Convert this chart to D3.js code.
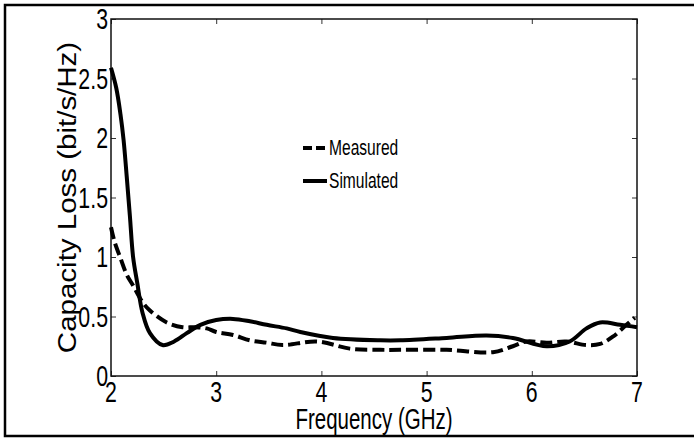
<!DOCTYPE html>
<html>
<head>
<meta charset="utf-8">
<script src="https://cdn.jsdelivr.net/npm/d3@7"></script>
<style>
  body { margin: 0; background: #fff; }
  svg { display: block; }
  .tick-label { font-family: "Liberation Sans", Arial, sans-serif; font-size: 26px; }
</style>
</head>
<body>
<svg id="chart" width="694" height="439"></svg>
<script>
// Data
const freqSimulated = [2.0, 2.05, 2.09, 2.12, 2.15, 2.18, 2.21, 2.25, 2.3, 2.37, 2.49, 2.6, 2.72, 2.85, 3.0, 3.16, 3.32, 3.48, 3.67, 3.8, 4.11, 4.56, 4.75, 5.19, 5.57, 5.82, 6.14, 6.36, 6.52, 6.65, 6.84, 7.0];
const simulated = [2.59, 2.42, 2.2, 1.98, 1.67, 1.34, 1.0, 0.78, 0.53, 0.36, 0.26, 0.29, 0.36, 0.43, 0.47, 0.48, 0.46, 0.43, 0.40, 0.37, 0.32, 0.30, 0.30, 0.32, 0.34, 0.32, 0.25, 0.29, 0.40, 0.45, 0.43, 0.41];

const freqMeasured = [2.0, 2.03, 2.09, 2.15, 2.21, 2.3, 2.37, 2.53, 2.68, 2.8, 2.91, 3.0, 3.16, 3.32, 3.48, 3.63, 3.96, 4.27, 4.56, 4.75, 5.19, 5.63, 5.82, 5.95, 6.14, 6.33, 6.52, 6.65, 6.77, 6.9, 6.98];
const measured = [1.25, 1.14, 0.99, 0.85, 0.76, 0.62, 0.55, 0.45, 0.41, 0.41, 0.40, 0.37, 0.345, 0.30, 0.28, 0.26, 0.29, 0.23, 0.22, 0.22, 0.22, 0.20, 0.25, 0.29, 0.28, 0.29, 0.26, 0.27, 0.33, 0.43, 0.49];

const xTicks = [2, 3, 4, 5, 6, 7];
const yTicks = [0, 0.5, 1, 1.5, 2, 2.5, 3];
const yTickLabels = ["0", "0.5", "1", "1.5", "2", "2.5", "3"];
const legendNames = ["Measured", "Simulated"];

const svg = d3.select("#chart");
const plotLeft = 111, plotRight = 637, plotTop = 19, plotBottom = 376;
// no narrow font here, so squeeze the text by hand (and the figure is stretched tall)
const narrow = "scale(0.82,1.15)";

const x = d3.scaleLinear().domain([2, 7]).range([plotLeft, plotRight]);
const y = d3.scaleLinear().domain([0, 3]).range([plotBottom, plotTop]);

// outer frame
svg.append("path")
  .attr("d", "M694,5 H5 V436 H694")
  .attr("fill", "none")
  .attr("stroke", "#000")
  .attr("stroke-width", 2.5);

// axis box with inner ticks on all sides
const tickLen = 5;
const g = svg.append("g");

g.append("g")
  .attr("transform", `translate(0,${plotBottom})`)
  .call(d3.axisBottom(x).tickValues(xTicks).tickSizeInner(-tickLen).tickSizeOuter(0).tickFormat(""))
  .call(a => a.select(".domain").remove());
g.append("g")
  .attr("transform", `translate(0,${plotTop})`)
  .call(d3.axisTop(x).tickValues(xTicks).tickSizeInner(-tickLen).tickSizeOuter(0).tickFormat(""))
  .call(a => a.select(".domain").remove());
g.append("g")
  .attr("transform", `translate(${plotLeft},0)`)
  .call(d3.axisLeft(y).tickValues(yTicks).tickSizeInner(-tickLen).tickSizeOuter(0).tickFormat(""))
  .call(a => a.select(".domain").remove());
g.append("g")
  .attr("transform", `translate(${plotRight},0)`)
  .call(d3.axisRight(y).tickValues(yTicks).tickSizeInner(-tickLen).tickSizeOuter(0).tickFormat(""))
  .call(a => a.select(".domain").remove());

g.selectAll(".tick line").attr("stroke", "#333").attr("stroke-width", 1);

g.append("rect")
  .attr("x", plotLeft).attr("y", plotTop)
  .attr("width", plotRight - plotLeft).attr("height", plotBottom - plotTop)
  .attr("fill", "none")
  .attr("stroke", "#111")
  .attr("stroke-width", 1.5);

// tick labels
svg.selectAll(".xlab")
  .data(xTicks)
  .enter()
  .append("text")
    .attr("class", "tick-label")
    .attr("text-anchor", "middle")
    .attr("transform", d => `translate(${x(d)},402) ${narrow}`)
    .text(d => d);

svg.selectAll(".ylab")
  .data(yTicks)
  .enter()
  .append("text")
    .attr("class", "tick-label")
    .attr("text-anchor", "end")
    .attr("transform", d => `translate(108,${y(d) + 10}) ${narrow}`)
    .text((d, i) => yTickLabels[i]);

// axis titles
svg.append("text")
  .attr("class", "tick-label")
  .style("font-size", "25px")
  .attr("text-anchor", "middle")
  .attr("transform", `translate(${(plotLeft + plotRight) / 2},429) ${narrow}`)
  .text("Frequency (GHz)");

svg.append("text")
  .attr("text-anchor", "middle")
  .attr("font-family", "'Liberation Sans', Arial, sans-serif")
  .attr("font-size", 25)
  .attr("transform", `translate(76,${(plotTop + plotBottom) / 2}) rotate(-90) scale(1.18,1)`)
  .text("Capacity Loss (bit/s/Hz)");

// curves
const line = d3.line()
  .x(d => x(d[0]))
  .y(d => y(d[1]))
  .curve(d3.curveCatmullRom.alpha(0.5));

svg.append("path")
  .datum(freqMeasured.map((f, i) => [f, measured[i]]))
  .attr("d", line)
  .attr("fill", "none")
  .attr("stroke", "#000")
  .attr("stroke-width", 4)
  .attr("stroke-dasharray", "12,5");

svg.append("path")
  .datum(freqSimulated.map((f, i) => [f, simulated[i]]))
  .attr("d", line)
  .attr("fill", "none")
  .attr("stroke", "#000")
  .attr("stroke-width", 4);

// legend
const legend = svg.append("g").attr("transform", "translate(303,0)");
const legendY = [148, 181];

legend.selectAll("line")
  .data(legendNames)
  .enter()
  .append("line")
    .attr("x1", 0).attr("x2", 24)
    .attr("y1", (d, i) => legendY[i]).attr("y2", (d, i) => legendY[i])
    .attr("stroke", "#000")
    .attr("stroke-width", 4)
    .attr("stroke-dasharray", (d, i) => i === 0 ? "9,4" : null);

legend.selectAll("text")
  .data(legendNames)
  .enter()
  .append("text")
    .attr("class", "tick-label")
    .style("font-size", "19px")
    .attr("transform", (d, i) => `translate(26,${legendY[i] + 7}) ${narrow}`)
    .text(d => d);
</script>
</body>
</html>
